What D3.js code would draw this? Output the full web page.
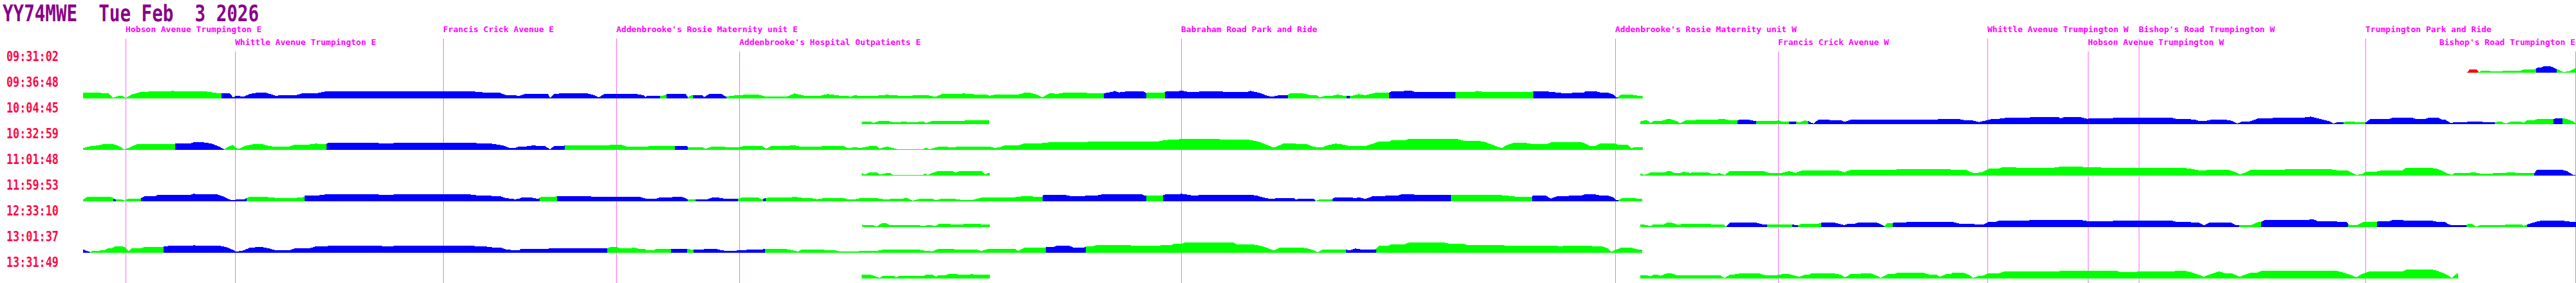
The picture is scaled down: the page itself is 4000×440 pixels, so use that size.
<!DOCTYPE html>
<html>
<head>
<meta charset="utf-8">
<script src="https://cdn.jsdelivr.net/npm/d3@7"></script>
<style>
body { margin: 0; background: #fff; }
svg { display: block; }
</style>
</head>
<body>
<div id="chart-area"></div>
<script>
/*
*    bus journeys, speed along the route
*/
var width = 4000;
var height = 440;

var title = "YY74MWE  Tue Feb  3 2026";

// stops along the route (distance in route units)
var stopNames = [
	"Hobson Avenue Trumpington E", "Whittle Avenue Trumpington E", "Francis Crick Avenue E",
	"Addenbrooke's Rosie Maternity unit E", "Addenbrooke's Hospital Outpatients E",
	"Babraham Road Park and Ride", "Addenbrooke's Rosie Maternity unit W", "Francis Crick Avenue W",
	"Whittle Avenue Trumpington W", "Hobson Avenue Trumpington W", "Bishop's Road Trumpington W",
	"Trumpington Park and Ride", "Bishop's Road Trumpington E"
];
var stopDistances = [195, 365, 688, 957, 1148, 1834, 2508, 2761, 3086, 3242, 3321, 3673, 3999];

// one row per journey start
var journeyStarts = ["09:31:02", "09:36:48", "10:04:45", "10:32:59", "11:01:48",
	"11:59:53", "12:33:10", "13:01:37", "13:31:49"];

// [distance, speed] samples, null marks a gap
var speed0 = [[3830,0],[3833,2.7],[3835,5.3],[3845,5.3],[3848,2.7],[3850,1],[3853,3],[3863,3],[3868,2.3],[3884,2.3],[3894,3.3],[3914,3.3],[3919,4.7],[3935,4.7],[3940,7.7],[3945,7.7],[3950,9.7],[3960,9.7],[3965,8.3],[3969,6],[3973,4.3],[3981,1],[3991,2.7],[4000,7.7]];
var speed1 = [[129,8.7],[153,8.7],[168,8],[176,1],[185,4.3],[190,4.3],[195,0.3],[204,6],[219,10],[235,10.7],[260,10.7],[268,11.7],[276,10.7],[321,10.7],[332,9],[343,7.7],[357,7.7],[362,1.7],[367,4.3],[378,2.7],[388,7],[398,8.7],[413,8.7],[423,6],[429,3.7],[434,5],[459,5],[469,7.7],[490,7.7],[505,10.7],[735,10.7],[745,10],[755,8.7],[776,8.7],[786,5],[800,5],
	[805,3.7],[815,6.7],[851,6.7],[854,1],[861,7],[871,7.7],[912,7.7],[922,5.3],[930,1.7],[938,6.7],[989,6.7],[999,5],[1003,1.7],[1004,3.7],[1024,3.7],[1030,4.3],[1036,6.7],[1065,6.7],[1068,1.7],[1072,4.3],[1076,5.3],[1091,5.3],[1093,1.7],[1101,6.7],[1121,6.7],[1127,2.7],[1137,4.3],[1157,5.7],[1178,5.7],[1188,3.3],[1223,3.3],[1234,7.7],[1249,4.3],[1274,4.3],[1285,6.7],[1305,4.3],[1315,4.3],[1320,2.7],[1328,5],[1336,3.7],[1356,3.7],[1377,5.7],[1397,4.3],[1412,4.3],[1438,5.3],[1453,2.7],[1463,6.7],[1484,6.7],[1496,7.7],[1514,6.3],[1530,6.3],[1537,4.3],[1545,6],[1581,6],[1591,8.7],[1600,8.7],
	[1610,6],[1618,1.7],[1631,8.3],[1641,7],[1651,8.7],[1687,8.7],[1692,7.7],[1712,7.7],[1728,10.3],[1730,11.7],[1738,9.3],[1748,10.7],[1776,10.7],[1779,8.3],[1782,9.3],[1808,9.3],[1810,10.7],[1824,10.7],[1835,12],[1845,10],[1855,10],[1865,10.7],[1896,10.7],[1901,10.3],[1937,10.3],[1942,11.7],[1957,8.3],[1967,4.3],[1975,2.7],[1988,5.3],[2000,5.3],[2003,7.7],[2023,7.7],[2034,5.3],[2044,5.3],[2049,1.7],[2059,4.3],[2069,4.3],[2077,6],[2090,3.7],[2096,4.3],[2100,4.3],[2110,6.7],[2120,5],[2136,8.7],[2156,8.7],[2161,11],[2177,11],[2182,12],[2192,12],[2197,10],[2289,10],[2294,11.7],[2304,10],[2376,10],[2381,11],[2400,11],
	[2423,8.7],[2428,7.7],[2438,7.7],[2443,9],[2459,9],[2461,10.7],[2479,10.7],[2487,8.7],[2497,8.7],[2505,6],[2510,1],[2512,2],[2517,5.7],[2535,5.7],[2543,4.3],[2551,3.3]];
var speed2 = [[1338,3.3],[1343,4.3],[1351,4.3],[1356,2],[1366,5.3],[1377,5.3],[1387,3],[1397,3],[1402,4.3],[1412,3],[1422,3],[1433,4.3],[1438,2],[1448,5.3],[1453,5.3],[1463,5],[1494,5],[1499,5.7],[1536,5.7],
	null,
	[2547,4.3],[2553,5.7],[2558,5.7],[2563,1.7],[2568,5],[2579,5],[2589,7.7],[2594,7.7],[2602,5.3],[2609,1.7],[2617,5.7],[2624,5.7],[2635,6.7],[2660,6.7],[2670,7.7],[2678,7.7],[2686,6],[2696,6],[2701,6.7],[2716,6.7],[2724,5],[2757,5],[2762,6],[2767,4.3],[2789,4.3],[2793,2.7],[2803,5.7],[2808,5],[2811,2.7],[2816,1],[2823,6.7],[2839,6.7],[2849,5.7],[2859,5.7],[2864,3.7],[2874,6.7],[2931,6.7],[2941,7.3],[3007,7.3],[3012,7.7],[3043,7.7],[3053,5.7],[3063,5.7],[3073,3.3],[3084,5.7],[3094,8.3],[3104,8.3],[3114,9.7],[3150,9.7],[3155,11.3],[3196,11.3],[3200,9],
	[3205,10.7],[3231,10.7],[3241,8.3],[3246,8.7],[3277,8.7],[3282,9.7],[3373,9.7],[3379,8.3],[3399,8.3],[3404,7],[3409,7],[3414,5],[3424,5],[3435,7],[3455,7],[3465,5.3],[3474,1],[3481,3.7],[3491,3.7],[3496,5],[3506,8.7],[3527,8.7],[3532,10.3],[3578,10.3],[3588,11.7],[3598,9.3],[3608,6.7],[3618,4.3],[3623,1],[3629,2.7],[3639,2.7],[3644,4.3],[3654,4.3],[3659,2.7],[3674,2.7],[3680,7.7],[3690,7.7],[3700,8.3],[3710,8.3],[3715,9.7],[3746,9.7],[3751,8.3],[3766,8.3],[3771,9.7],[3787,9.7],[3792,7],[3797,7],[3805,2],[3812,3],[3828,3],[3833,4],[3853,4],[3858,2.7],[3873,2.7],[3879,4],[3884,4],[3891,1],[3899,4],[3914,4],[3919,2.3],[3924,6],[3935,6],[3940,7.7],[3965,7.7],[3970,9.3],[3979,9.3],[3986,7.7],[3996,4.3],[4000,1]];
var speed3 = [[129,2.7],[138,5.3],[153,7],[163,9.3],[173,9.3],[181,7.7],[189,3.3],[192,0.7],[199,2.7],[204,5],[214,9.3],[235,9.3],[240,8.7],[263,8.7],[265,9.3],[271,9.3],[276,10],[296,10],[301,11.7],[316,11.7],[327,10],[334,7.7],[342,4.3],[348,1],[355,5],[362,7.7],[367,2.7],[372,2],[380,6],[393,8.7],[408,8.7],[418,6],[423,5.3],[449,5.3],[459,8.3],[480,8.3],[490,9.7],[505,8.7],[510,10.7],[587,10.7],[592,10],[607,10],[612,10.7],[719,10.7],[724,11],[735,11],[745,10],[760,10],[770,8.7],[781,6.7],[791,3.3],[800,3.3],
	[805,5],[815,5],[828,7],[835,6],[846,6],[854,1],[861,6],[874,6],[877,7],[943,7],[953,8.3],[963,8.3],[973,5.3],[1004,5.3],[1019,6.3],[1045,6.3],[1048,5.7],[1067,5.7],[1068,3.7],[1091,3.7],[1096,1.7],[1106,5.3],[1121,5.3],[1127,4.3],[1147,4.3],[1157,6.3],[1183,6.3],[1190,1.7],[1198,6],[1218,6],[1234,7],[1244,4.7],[1269,4.7],[1280,6],[1310,6],[1318,2.3],[1326,4.3],[1336,3],[1351,6],[1361,6],[1366,1.7],[1377,5.3],[1387,2.7],[1394,1],[1433,1],[1438,3.7],[1443,1],[1458,5],[1468,5],[1479,3.7],[1489,5.3],[1535,5.3],[1545,3],[1553,4.3],[1560,6.7],[1581,6.7],[1591,10],[1600,10],
	[1626,10.7],[1628,11.7],[1687,11.7],[1689,12.7],[1796,12.7],[1804,14.3],[1814,15.7],[1835,16.7],[1893,16.7],[1896,15.7],[1939,15.7],[1947,14.3],[1957,12],[1967,7.7],[1978,3.3],[1988,7.7],[1993,10],[2008,10],[2018,8.7],[2029,8.7],[2039,5.3],[2044,4.3],[2054,4.3],[2064,7.7],[2074,9.7],[2085,8.3],[2095,6],[2120,6],[2131,9.3],[2141,12.7],[2156,12.7],[2161,15],[2182,15],[2187,16.7],[2263,16.7],[2273,14.3],[2294,14.3],[2304,12.7],[2314,9.3],[2324,5.3],[2332,2.7],[2340,7.7],[2350,10.7],[2370,10.7],[2381,8.7],[2400,8.7],
	[2405,10],[2408,11.7],[2456,11.7],[2461,10],[2469,6],[2477,6],[2484,9.7],[2507,9.7],[2512,8],[2528,8],[2533,2],[2538,4.3],[2543,4.3],[2551,3.7]];
var speed4 = [[1338,3.7],[1343,1.7],[1351,5.3],[1361,5.3],[1366,1.7],[1377,4],[1382,4],[1387,0.7],[1433,0.7],[1437,3.7],[1440,0.7],[1448,4.3],[1458,7.3],[1479,7.3],[1484,4.3],[1489,6.7],[1514,6.7],[1519,7.3],[1524,7.3],[1530,2],[1535,4.3],[1537,4.3],
	null,
	[2547,3.7],[2553,1],[2563,4.7],[2584,4.7],[2589,7],[2594,7],[2599,4.3],[2609,4.3],[2614,6],[2624,4.3],[2635,5.3],[2650,5.3],[2658,3],[2665,3],[2670,4],[2678,1],[2686,7],[2696,7],[2701,7.3],[2737,7.3],[2747,4.3],[2767,4.3],[2778,7],[2788,4.3],[2798,7.7],[2818,7.7],[2823,8],[2854,8],[2864,5.3],[2874,8.7],[2941,8.7],[2946,9.7],[3028,9.7],[3033,9],[3053,9],[3063,4.3],[3068,3.7],[3079,5.7],[3089,11],[3104,11],[3109,12.7],[3130,12.7],[3135,12],[3186,12],[3196,13.3],[3200,14],
	[3231,14.3],[3236,13],[3261,13],[3266,11.7],[3394,11.7],[3404,10.3],[3414,8.3],[3424,8.3],[3435,9.3],[3460,9.3],[3470,6],[3478,2],[3486,4.3],[3496,9.3],[3547,9.3],[3552,10],[3618,10],[3629,8.3],[3644,8.3],[3649,6],[3659,1],[3669,2.7],[3674,6.3],[3690,6.3],[3700,8.3],[3731,8.3],[3736,12.3],[3771,12.3],[3782,11],[3792,7.7],[3802,2.7],[3807,1],[3812,4.3],[3833,4.3],[3843,5],[3853,2.7],[3863,2.7],[3873,3.7],[3884,3.7],[3894,4.7],[3904,4.7],[3914,3.7],[3935,3.7],[3940,9.3],[3976,9.3],[3986,7],[3996,1],[3999,0.5]];
var speed5 = [[129,2.7],[135,6.7],[173,6.7],[176,4.3],[180,2.7],[189,2.7],[194,1],[199,4],[217,4],[219,5],[224,7.7],[240,7.7],[245,10],[265,10],[276,10.3],[296,10.3],[301,11.7],[311,10.7],[337,10.7],[347,7.7],[357,2.7],[362,1.7],[367,2.7],[378,2.7],[382,4.3],[388,7.3],[408,7.3],[418,6.3],[429,5.3],[459,5.3],[472,6.7],[474,9.3],[495,9.3],[505,10.7],[587,10.7],[592,10],[607,10],[612,10.7],[730,10.7],[740,9.3],[755,9.3],[765,8.3],[776,8.3],[786,5],[800,3.3],
	[805,3.7],[810,5.7],[826,5.7],[836,3.7],[841,7.3],[861,7.3],[866,7.7],[917,7.7],[922,6.7],[994,6.7],[1004,4],[1019,4],[1024,5.7],[1040,5.7],[1045,6.7],[1060,6.7],[1065,4.3],[1068,2.7],[1096,2.7],[1106,5.7],[1116,5.7],[1127,3.7],[1146,3.7],[1152,5.7],[1178,5.7],[1183,3],[1189,5],[1193,5.7],[1223,5.7],[1234,7],[1249,5],[1259,5],[1269,3.3],[1280,5],[1310,5],[1318,2.7],[1326,2.7],[1336,5],[1361,5],[1377,2.7],[1387,4.3],[1402,4.3],[1407,5.7],[1417,1],[1428,3.7],[1448,3.7],[1453,1.7],[1463,4.3],[1479,4.3],[1494,2],[1509,2],[1524,5.7],[1535,5.7],[1545,6.3],[1576,6.3],[1586,7.7],[1600,7.7],
	[1619,6.7],[1620,10.3],[1651,10.3],[1666,7.7],[1677,7.7],[1687,8.7],[1702,8.7],[1712,11],[1773,11],[1779,8.3],[1780,9.3],[1806,9.3],[1809,10.7],[1824,10.7],[1835,11.7],[1850,9.3],[1860,9.3],[1865,10],[1896,10],[1901,10.3],[1942,10.3],[1952,8.7],[1962,6],[1972,3.7],[1988,5.3],[2008,5.3],[2013,2.7],[2018,4.3],[2039,4.3],[2044,1],[2049,2.7],[2067,2.7],[2074,6.3],[2095,6.3],[2105,5],[2110,6.3],[2120,3.7],[2131,7.7],[2146,7.7],[2156,9.3],[2171,9.3],[2177,11.3],[2192,11.3],[2197,10.3],[2253,10.3],[2258,10],[2324,10],[2335,9.3],[2350,7.7],[2360,6.7],[2370,7.3],[2379,7.3],[2381,9],[2400,9],
	[2408,4.3],[2418,7.7],[2431,7.7],[2441,9.3],[2456,9.3],[2461,10.7],[2477,10.7],[2487,8.7],[2497,8.7],[2505,6],[2510,1.7],[2513,2],[2520,5.3],[2533,5.3],[2543,4.3],[2550,4.3]];
var speed6 = [[1339,3.7],[1346,2.7],[1356,2.7],[1361,1],[1369,5.7],[1377,5.7],[1382,2.7],[1397,2.7],[1402,3.3],[1412,3.3],[1417,2.7],[1428,2.7],[1433,1.7],[1443,3.3],[1453,1.7],[1458,5],[1473,5],[1479,4],[1494,4],[1499,5.3],[1519,5.3],[1524,4.3],[1537,4.3],
	null,
	[2547,3.7],[2553,3.7],[2563,1.7],[2568,4.3],[2584,4.3],[2589,7],[2594,7],[2604,4.3],[2609,4.3],[2614,5.3],[2645,5.3],[2660,4.3],[2676,4.3],[2680,1],[2686,6.7],[2727,6.7],[2737,4.3],[2783,4.3],[2788,2.7],[2792,2.7],[2798,5.3],[2823,5.3],[2829,6.7],[2849,6.7],[2859,4.3],[2864,3],[2869,5],[2880,5],[2885,6.7],[2915,6.7],[2926,1.7],[2930,6],[2939,6],[2941,7],[2956,7],[2961,7.7],[3033,7.7],[3043,5.3],[3063,5.3],[3068,3.7],[3079,3.7],[3089,8.3],[3099,8.3],[3104,9.7],[3124,9.7],[3130,10.3],[3150,10.3],[3155,11.3],[3196,11.3],[3200,11],
	[3231,11],[3241,9.3],[3251,9.3],[3256,8.7],[3277,8.7],[3282,9.7],[3373,9.7],[3379,8.3],[3399,8.3],[3404,7],[3414,7],[3422,2.7],[3430,6.7],[3465,6.7],[3473,2.7],[3481,3.3],[3496,3.3],[3506,7.7],[3511,8],[3516,10.7],[3557,10.7],[3593,11.7],[3598,9.3],[3623,9.3],[3634,7.7],[3644,7.7],[3646,5],[3649,2.7],[3659,2.7],[3669,7.7],[3690,7.7],[3695,9.3],[3710,9.3],[3715,10.7],[3731,10.7],[3736,9.7],[3777,9.7],[3787,7.7],[3797,7.7],[3802,4.3],[3807,2.7],[3828,2.7],[3833,5],[3838,5],[3845,1],[3853,3.3],[3889,3.3],[3894,4.3],[3914,4.3],[3919,2],[3924,4],[3930,6],[3940,8.7],[3945,9.7],[3981,9.7],[3991,8.3],[4000,7.7]];
var speed7 = [[129,5.3],[135,2.7],[140,1],[143,2.7],[153,2.7],[158,4.3],[163,4.3],[168,7],[173,7],[179,10.3],[189,10.3],[194,8.3],[200,2],[204,7],[219,7],[224,8.7],[253,8.7],[255,10.3],[260,10.3],[265,11],[296,11],[301,11.7],[311,10.7],[342,10.7],[352,8.7],[362,4.3],[367,1.7],[378,3.7],[388,7.7],[398,8.7],[408,8.7],[418,6.7],[429,3.7],[449,3.7],[459,7],[480,7],[490,9.7],[505,9.7],[510,10.7],[592,10.7],[597,10],[607,10],[612,10.7],[735,10.7],[745,9.7],[755,9.7],[765,8.3],[776,8.3],[786,5.3],[800,3.7],
	[805,3.7],[810,6.3],[851,6.3],[856,7.3],[943,7.3],[948,9],[958,9],[963,7],[979,7],[984,8.3],[994,5.7],[1002,5.7],[1004,3.7],[1014,3.7],[1019,6],[1040,6],[1042,6.3],[1067,6.3],[1072,5.3],[1091,5.3],[1101,6.3],[1111,6.3],[1121,3.7],[1132,3],[1137,3],[1147,3.7],[1157,3.7],[1162,5.3],[1183,5.3],[1193,6.3],[1218,6.3],[1229,4.3],[1239,2],[1244,4.7],[1274,4.7],[1285,4.3],[1295,4.3],[1303,2.3],[1331,2.3],[1341,3],[1361,3],[1371,4.7],[1428,4.7],[1438,3],[1448,2.3],[1458,6.3],[1473,6.3],[1484,5.3],[1514,5.3],[1524,3],[1535,6],[1576,6],[1581,3],[1591,8],[1600,8],
	[1624,8.3],[1626,9.3],[1636,9.3],[1641,10.7],[1661,10.7],[1666,8.3],[1684,8.3],[1687,10.3],[1697,10.3],[1702,12],[1753,12],[1758,11],[1799,11],[1804,12],[1819,12],[1824,14.3],[1835,14.3],[1840,15.7],[1916,15.7],[1921,12.7],[1947,12.7],[1957,11],[1967,7.7],[1978,3.7],[1988,8.3],[2018,8.3],[2029,7],[2039,4.3],[2046,1],[2054,5],[2090,5],[2095,3.7],[2105,6.7],[2115,5],[2136,5],[2141,11],[2156,11],[2161,13.3],[2182,13.3],[2187,15.7],[2243,15.7],[2253,13.7],[2273,13.7],[2279,11.7],[2335,11.7],[2340,11],[2400,11],
	[2426,10.3],[2428,11],[2466,11],[2477,10],[2487,10],[2497,7],[2502,1.7],[2510,5],[2517,7.7],[2533,7.7],[2543,5.3],[2550,5.3]];
var speed8 = [[1338,6],[1351,6],[1361,2.7],[1366,1],[1371,4.3],[1387,4.3],[1392,2],[1397,4.3],[1412,4.3],[1417,3.7],[1433,3.7],[1438,6],[1448,6],[1453,2.7],[1458,5.3],[1468,5.3],[1473,7],[1484,7],[1489,6],[1504,6],[1509,7],[1514,5.7],[1537,5.7],
	null,
	[2547,5],[2558,5],[2563,3.3],[2568,6],[2573,6],[2579,4.3],[2589,8.3],[2594,8.3],[2604,5.3],[2670,5.3],[2678,1],[2686,6],[2691,6],[2701,7.7],[2732,7.7],[2742,5],[2757,5],[2767,6.7],[2778,6.7],[2788,4.3],[2793,2.7],[2803,5.7],[2808,5.7],[2813,7.7],[2849,7.7],[2859,5.7],[2865,1.7],[2874,7],[2885,7],[2890,7.7],[2905,7.7],[2915,4.3],[2920,1],[2931,6.7],[2941,6.7],[2946,8.7],[2987,8.7],[2997,6],[3007,6],[3012,2.7],[3022,6.7],[3028,6.7],[3033,9.3],[3048,9.3],[3058,5.3],[3064,1],[3073,4.3],[3079,4.3],[3089,8.3],[3104,8.3],[3114,11.3],[3196,11.3],[3200,11.7],
	[3287,11.7],[3292,10.3],[3317,10.3],[3322,11],[3373,11],[3379,11.7],[3394,11.7],[3404,9.3],[3414,6],[3422,2.7],[3430,6],[3445,11],[3455,8.3],[3465,8.3],[3478,2.7],[3486,6],[3496,9.3],[3506,9.3],[3511,11.7],[3629,11.7],[3639,9.3],[3649,6],[3659,2],[3669,7.7],[3680,11],[3731,11],[3736,13.7],[3777,13.7],[3782,12.7],[3792,9.3],[3802,4.3],[3807,1],[3815,7.7],[3817,7.7]];

// colour changes along each journey [distance, code]
var colour0 = [[3830,"r"],[3848,"g"],[3938,"b"],[3970,"g"]];
var colour1 = [[129,"g"],[344,"b"],[1025,"g"],[1035,"b"],[1068,"g"],[1076,"b"],[1128,"g"],[1714,"b"],[1780,"g"],[1809,"b"],[2000,"g"],[2091,"b"],[2096,"g"],[2157,"b"],[2260,"g"],[2381,"b"],[2512,"g"]];
var colour2 = [[1338,"g"],[2698,"b"],[2727,"g"],[2778,"b"],[2789,"g"],[2808,"b"],[3639,"g"],[3673,"b"],[3874,"g"],[3965,"b"],[3979,"g"]];
var colour3 = [[129,"g"],[272,"b"],[348,"g"],[507,"b"],[877,"g"],[1048,"b"],[1068,"g"]];
var colour4 = [[1338,"g"],[3935,"b"]];
var colour5 = [[129,"g"],[176,"b"],[180,"g"],[219,"b"],[383,"g"],[473,"b"],[838,"g"],[865,"b"],[1068,"g"],[1080,"b"],[1146,"g"],[1185,"b"],[1189,"g"],[1619,"b"],[1780,"g"],[1806,"b"],[2042,"g"],[2069,"b"],[2253,"g"],[2379,"b"],[2513,"g"]];
var colour6 = [[1339,"g"],[2681,"b"],[2744,"g"],[2783,"b"],[2792,"g"],[2828,"b"],[2926,"g"],[2939,"b"],[3477,"g"],[3511,"b"],[3646,"g"],[3691,"b"],[3830,"g"],[3924,"b"]];
var colour7 = [[129,"b"],[140,"g"],[254,"b"],[943,"g"],[1042,"b"],[1067,"g"],[1077,"b"],[1188,"g"],[1624,"b"],[1686,"g"],[2090,"b"],[2137,"g"]];
var colour8 = [[1338,"g"]];

var speeds = [speed0, speed1, speed2, speed3, speed4, speed5, speed6, speed7, speed8];
var colours = [colour0, colour1, colour2, colour3, colour4, colour5, colour6, colour7, colour8];
var colourCodes = {g: "#00ff00", b: "#0000ff", r: "#ff0000"};

var svg = d3.select("#chart-area")
	.append("svg")
	.attr("width", width)
	.attr("height", height);

svg.append("rect").attr("width", width).attr("height", height).attr("fill", "#fff");

// Scale
var x = d3.scaleLinear()
	.domain([0, 4000])
	.range([0, width]);
var y = d3.scaleLinear()
	.domain([0, 20])
	.range([0, -20]);

var font = "'DejaVu Sans Mono', monospace";

// title
svg.append("text")
	.attr("x", 4)
	.attr("y", 33)
	.attr("font-family", font)
	.attr("font-weight", "bold")
	.attr("font-size", "36px")
	.attr("textLength", 398)
	.attr("lengthAdjust", "spacingAndGlyphs")
	.style("white-space", "pre")
	.attr("fill", "#880088")
	.text(title);

// stop lines + labels, second level when a label would overlap
var stopLayer = svg.append("g");
var lastEnd = [-Infinity, -Infinity];
stopNames.forEach((name, i) => {
	var label = stopLayer.append("text")
		.attr("font-family", font)
		.attr("font-weight", "bold")
		.attr("font-size", "13px")
		.attr("fill", "#ff00ff")
		.text(name);
	var w = label.node().getComputedTextLength();
	var sx = x(stopDistances[i]);
	var left = sx + w > width ? width - w - 1 : sx;
	var level = left > lastEnd[0] + 4 ? 0 : 1;
	lastEnd[level] = left + w;
	label.attr("x", left).attr("y", 50 + level * 20);

	stopLayer.append("line")
		.attr("x1", Math.floor(sx) + 0.5)
		.attr("x2", Math.floor(sx) + 0.5)
		.attr("y1", 60 + level * 20)
		.attr("y2", height)
		.attr("stroke", "#ff66ff")
		.attr("stroke-width", 1);
});

var area = d3.area()
	.defined((d) => { return d !== null; })
	.x((d) => { return x(d[0]); })
	.y0(y(0))
	.y1((d) => { return y(d[1]); });

var defs = svg.append("defs");

journeyStarts.forEach((start, i) => {
	svg.append("text")
		.attr("x", 10)
		.attr("y", 95 + i * 40)
		.attr("font-family", font)
		.attr("font-weight", "bold")
		.attr("font-size", "20.5px")
		.attr("textLength", 81)
		.attr("lengthAdjust", "spacingAndGlyphs")
		.attr("fill", "#ff0844")
		.text(start);

	var row = svg.append("g")
		.attr("transform", "translate(0, " + (113 + i * 40) + ")");

	var breaks = colours[i];
	breaks.forEach((b, j) => {
		var from = b[0];
		var to = j + 1 < breaks.length ? breaks[j + 1][0] : 4000;
		var id = "clip-" + i + "-" + j;
		defs.append("clipPath").attr("id", id)
			.append("rect")
			.attr("x", x(from))
			.attr("y", -30)
			.attr("width", x(to) - x(from))
			.attr("height", 40);
		row.append("path")
			.datum(speeds[i])
			.attr("d", area)
			.attr("clip-path", "url(#" + id + ")")
			.attr("fill", colourCodes[b[1]])
			.attr("shape-rendering", "crispEdges");
	});
});
</script>
</body>
</html>
